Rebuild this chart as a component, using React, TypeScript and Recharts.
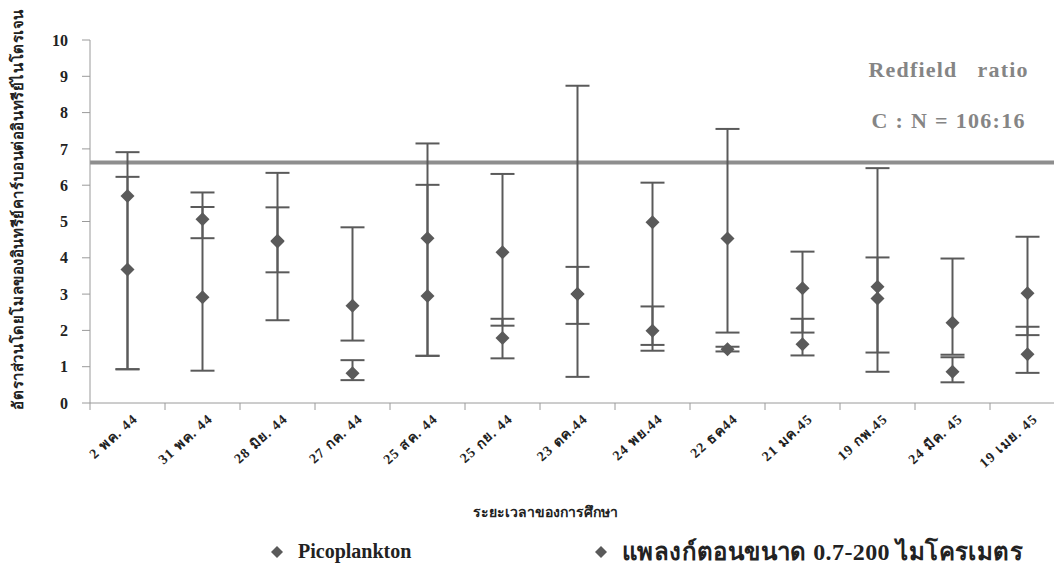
import React from 'react';
import {
  ComposedChart,
  Scatter,
  ErrorBar,
  XAxis,
  YAxis,
  ReferenceLine,
  Label,
  Legend,
} from 'recharts';

const categories = [
  '2 พค. 44',
  '31 พค. 44',
  '28 มิย. 44',
  '27 กค. 44',
  '25 สค. 44',
  '25 กย. 44',
  '23 ตค.44',
  '24 พย.44',
  '22 ธค44',
  '21 มค.45',
  '19 กพ.45',
  '24 มีค. 45',
  '19 เมย. 45',
];

// แพลงก์ตอนขนาด 0.7-200 ไมโครเมตร
const largeMean = [5.7, 5.06, 4.47, 2.68, 4.54, 4.15, 3.0, 4.98, 4.53, 3.16, 3.2, 2.21, 3.02];
const largeHigh = [6.91, 5.4, 5.39, 4.84, 7.15, 6.31, 8.74, 6.07, 7.55, 4.17, 6.47, 3.98, 4.58];
const largeLow = [0.93, 4.54, 3.6, 1.72, 1.3, 2.13, 0.72, 1.44, 1.94, 1.94, 1.39, 1.33, 1.87];

// Picoplankton
const picoMean = [3.68, 2.91, 4.45, 0.82, 2.95, 1.79, 3.0, 1.99, 1.48, 1.62, 2.88, 0.86, 1.34];
const picoHigh = [6.23, 5.8, 6.34, 1.18, 6.01, 2.32, 3.75, 2.66, 1.55, 2.32, 4.01, 1.26, 2.1];
const picoLow = [0.93, 0.89, 2.28, 0.63, 1.3, 1.23, 2.18, 1.6, 1.42, 1.31, 0.86, 0.57, 0.83];

const yTicks = [0, 1, 2, 3, 4, 5, 6, 7, 8, 9, 10];
const REDFIELD = 106 / 16;

const data = categories.map((label, i) => ({
  label,
  pico: picoMean[i],
  picoErr: [picoMean[i] - picoLow[i], picoHigh[i] - picoMean[i]],
  large: largeMean[i],
  largeErr: [largeMean[i] - largeLow[i], largeHigh[i] - largeMean[i]],
}));

const SERIF = '"Liberation Serif", "Times New Roman", serif';
const MARK = '#5a5a5a';
const AXIS = '#9a9a9a';

function Diamond(props: any) {
  const { cx, cy } = props;
  if (cx == null || cy == null) return null;
  return (
    <polygon
      points={`${cx},${cy - 7} ${cx + 7},${cy} ${cx},${cy + 7} ${cx - 7},${cy}`}
      fill={MARK}
    />
  );
}

// tick marks sit on the category boundaries, like Excel
function CategoryTick(props: any) {
  const { x, y, payload } = props;
  const half = payload?.offset ?? 0;
  const axisY = y - 11;
  const tx = x + 11;
  const ty = y + 6;
  return (
    <g>
      <line x1={x - half} y1={axisY} x2={x - half} y2={axisY + 7} stroke={AXIS} />
      <text
        x={tx}
        y={ty}
        transform={`rotate(-42, ${tx}, ${ty})`}
        textAnchor="end"
        fontFamily={SERIF}
        fontWeight={700}
        fontSize={14}
        letterSpacing={1.2}
        fill="#222"
      >
        {payload.value}
      </text>
    </g>
  );
}

function YTitle(props: any) {
  const vb = props.viewBox || { x: 0, y: 40, height: 363 };
  const cx = vb.x + 18;
  const cy = vb.y + vb.height / 2 - 12;
  return (
    <text
      x={cx}
      y={cy}
      transform={`rotate(-90, ${cx}, ${cy})`}
      textAnchor="middle"
      dominantBaseline="central"
      fontFamily={SERIF}
      fontWeight={700}
      fontSize={15}
      textLength={400}
      fill="#222"
    >
      อัตราส่วนโดยโมลของอินทรีย์คาร์บอนต่ออินทรีย์ไนโตรเจน
    </text>
  );
}

function XTitle(props: any) {
  const vb = props.viewBox || { x: 90, y: 403, width: 975 };
  return (
    <text
      x={vb.x + vb.width / 2 - 32}
      y={vb.y + 114}
      textAnchor="middle"
      fontFamily={SERIF}
      fontWeight={700}
      fontSize={14}
      fill="#222"
    >
      ระยะเวลาของการศึกษา
    </text>
  );
}

function RedfieldNote(props: any) {
  const vb = props.viewBox || { x: 90, y: 163, width: 975 };
  const cx = vb.x + vb.width - 117;
  return (
    <g fontFamily={SERIF} fontWeight={700} fontSize={22} fill="#858585" textAnchor="middle">
      <text x={cx} y={vb.y - 86} textLength={159} style={{ whiteSpace: 'pre' }}>
        {'Redfield   ratio'}
      </text>
      <text x={cx} y={vb.y - 35} textLength={153} style={{ whiteSpace: 'pre' }}>
        C : N = 106:16
      </text>
    </g>
  );
}

function LegendBox(props: any) {
  const items = props.payload || [];
  const widths = [324, 470];
  const sizes = [20, 24];
  return (
    <div style={{ display: 'flex', fontFamily: SERIF, fontWeight: 700, color: '#222' }}>
      {items.map((it: any, i: number) => (
        <div
          key={it.value}
          style={{ display: 'flex', alignItems: 'center', gap: 15, width: widths[i], fontSize: sizes[i] }}
        >
          <svg width={12} height={12}>
            <polygon points="6,0 12,6 6,12 0,6" fill={MARK} />
          </svg>
          <span style={{ letterSpacing: i === 0 ? 0 : 0.4 }}>{it.value}</span>
        </div>
      ))}
    </div>
  );
}

export default function App() {
  return (
    <div
      style={{
        position: 'fixed',
        left: 0,
        top: 0,
        width: 1054,
        height: 569,
        overflow: 'hidden',
        background: '#fff',
      }}
    >
      <ComposedChart width={1065} height={569} data={data} margin={{ top: 40, right: 0, bottom: 0, left: 0 }}>
        <XAxis
          dataKey="label"
          scale="band"
          height={166}
          interval={0}
          tickLine={false}
          tickSize={7}
          tickMargin={4}
          axisLine={{ stroke: AXIS }}
          tick={<CategoryTick />}
        >
          <Label content={<XTitle />} />
        </XAxis>
        <YAxis
          width={90}
          domain={[0, 10]}
          ticks={yTicks}
          interval={0}
          tickSize={8}
          tickMargin={14}
          axisLine={{ stroke: AXIS }}
          tickLine={{ stroke: AXIS }}
          tick={{ fill: '#222', fontSize: 16, fontWeight: 700, fontFamily: SERIF }}
        >
          <Label content={<YTitle />} />
        </YAxis>
        <ReferenceLine y={REDFIELD} stroke="#8e8e8e" strokeWidth={4} label={<RedfieldNote />} />
        <Scatter name="Picoplankton" dataKey="pico" fill={MARK} shape={<Diamond />} isAnimationActive={false}>
          <ErrorBar dataKey="picoErr" direction="y" width={12} stroke={MARK} strokeWidth={2} />
        </Scatter>
        <Scatter
          name="แพลงก์ตอนขนาด 0.7-200 ไมโครเมตร"
          dataKey="large"
          fill={MARK}
          shape={<Diamond />}
          isAnimationActive={false}
        >
          <ErrorBar dataKey="largeErr" direction="y" width={12} stroke={MARK} strokeWidth={2} />
        </Scatter>
        <Legend
          layout="horizontal"
          verticalAlign="middle"
          align="center"
          content={<LegendBox />}
          wrapperStyle={{ left: 271, top: 532, width: 820 }}
        />
      </ComposedChart>
    </div>
  );
}
